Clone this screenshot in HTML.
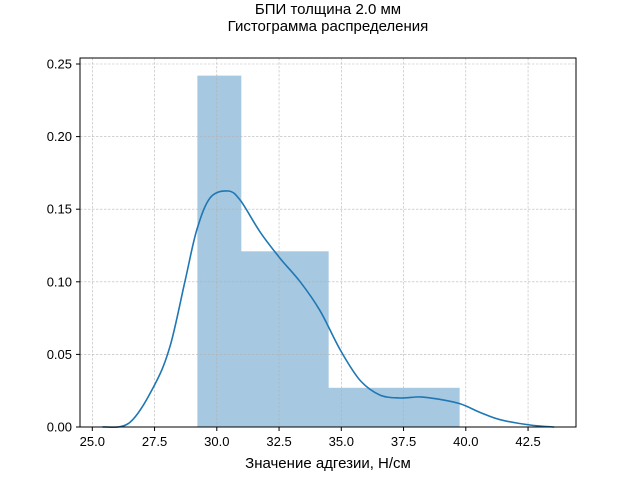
<!DOCTYPE html>
<html><head><meta charset="utf-8"><style>
html,body{margin:0;padding:0;background:#fff;}
svg text{font-family:"Liberation Sans","DejaVu Sans",sans-serif;}
</style></head><body>
<svg id="chart" width="640" height="480" xmlns="http://www.w3.org/2000/svg">
<rect width="640" height="480" fill="#fff"/>
<text x="328" y="14" font-size="15" text-anchor="middle">БПИ толщина 2.0 мм</text>
<text x="328" y="31" font-size="15" text-anchor="middle">Гистограмма распределения</text>
<g id="bars"></g>
<g id="grid"></g>
<path id="kde" fill="none" stroke="#1f77b4" stroke-width="1.6"/>
<rect x="80" y="58" width="496" height="369" fill="none" stroke="#000" stroke-width="1"/>
<g id="xt"></g>
<g id="yt"></g>
<text x="328" y="468" font-size="15" text-anchor="middle">Значение адгезии, Н/см</text>
</svg>
<script>
const binEdges=[29.22,30.973,32.727,34.48,36.233,37.987,39.74];
const binHeights=[0.242,0.121,0.121,0.027,0.027,0.027];
const kdeX=[25.4,26.5,27.5,28.13,28.73,29.2,29.74,30.46,30.95,31.75,32.55,33.35,34.15,34.96,35.76,36.56,37.37,38.17,38.97,39.77,40.58,41.38,42.58,43.55];
const kdeY=[0,0.003,0.029,0.056,0.101,0.136,0.158,0.1625,0.156,0.134,0.116,0.1,0.08,0.053,0.032,0.022,0.02,0.0207,0.019,0.016,0.010,0.005,0.0014,0];
const xTicks=[25.0,27.5,30.0,32.5,35.0,37.5,40.0,42.5];
const yTicks=[0,0.05,0.10,0.15,0.20,0.25];
const xLabels=["25.0","27.5","30.0","32.5","35.0","37.5","40.0","42.5"];
const yLabels=["0.00","0.05","0.10","0.15","0.20","0.25"];
const NS="http://www.w3.org/2000/svg";
const X=v=>92.3+(v-25)*24.9;
const Y=v=>427-v*1452;
function mk(t,a,p){const e=document.createElementNS(NS,t);for(const k in a)e.setAttribute(k,a[k]);p.appendChild(e);return e;}
const g=document.getElementById('grid'),xt=document.getElementById('xt'),yt=document.getElementById('yt'),bars=document.getElementById('bars');
xTicks.forEach((v,i)=>{
 const l=mk('line',{x1:X(v),x2:X(v),y1:58,y2:427,stroke:'#b0b0b0','stroke-width':0.6,'stroke-dasharray':'2.5,1.5','stroke-opacity':0.9},g);
 
 
 const t=mk('line',{x1:X(v),x2:X(v),y1:427,y2:431,stroke:'#000'},xt);
 
 
 const tx=mk('text',{x:X(v),y:446,'font-size':13,'text-anchor':'middle'},xt);tx.textContent=xLabels[i];
 
 
});
yTicks.forEach((v,i)=>{
 const l=mk('line',{x1:80,x2:576,y1:Y(v),y2:Y(v),stroke:'#b0b0b0','stroke-width':0.6,'stroke-dasharray':'2.5,1.5','stroke-opacity':0.9},g);
 
 
 const t=mk('line',{x1:76,x2:80,y1:Y(v),y2:Y(v),stroke:'#000'},yt);
 
 
 const tx=mk('text',{x:72,y:Y(v)+4.5,'font-size':13,'text-anchor':'end'},yt);tx.textContent=yLabels[i];
 
 
});
binHeights.forEach((h,i)=>{
 const r=mk('rect',{x:X(binEdges[i]),y:Y(h),width:X(binEdges[i+1])-X(binEdges[i])+0.3,height:427-Y(h),fill:'#a6c8e0'},bars);
 
 
});
const P=kdeX.map((v,i)=>[X(v),Y(kdeY[i])]);
let d='M'+P[0][0].toFixed(1)+','+P[0][1].toFixed(1);
for(let i=0;i<P.length-1;i++){
 const p0=P[Math.max(0,i-1)],p1=P[i],p2=P[i+1],p3=P[Math.min(P.length-1,i+2)];
 const c1=[p1[0]+(p2[0]-p0[0])/6,p1[1]+(p2[1]-p0[1])/6],c2=[p2[0]-(p3[0]-p1[0])/6,p2[1]-(p3[1]-p1[1])/6];
 d+='C'+c1[0].toFixed(1)+','+c1[1].toFixed(1)+' '+c2[0].toFixed(1)+','+c2[1].toFixed(1)+' '+p2[0].toFixed(1)+','+p2[1].toFixed(1);
}
document.getElementById('kde').setAttribute('d',d);
</script>
</body></html>
